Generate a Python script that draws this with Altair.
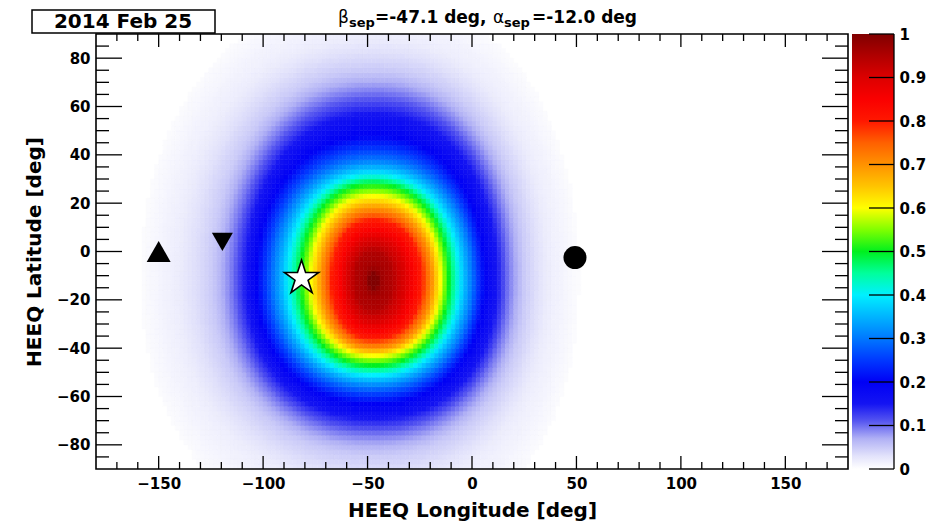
import altair as alt
import numpy as np
import pandas as pd

# ---------------- values ----------------
peak_lon = -47.1     # beta_sep
peak_lat = -12.0     # alpha_sep

# contour levels of the map and where each level crosses the lines through the peak (deg)
levels    = [0.0, 0.02, 0.05, 0.10, 0.15, 0.20, 0.30, 0.40, 0.50, 0.60, 0.70, 0.80, 0.85, 0.90, 0.95, 1.00]
lon_west  = [-163, -140, -124, -114, -108, -103, -95, -88, -82, -77, -72, -67, -63, -60, -56, -49]
lon_east  = [55, 36, 25, 17, 12, 6, 0, -6, -11, -15, -19, -24, -28, -32, -38, -45]
lat_south = [-125, -98, -84, -75, -69, -63, -56, -51, -47, -43, -40, -36, -33, -29, -24, -15]
lat_north = [110, 88, 75, 65, 57, 48, 38, 32, 28, 23, 18, 13, 9, 5, 0, -9]

marker_kind = ["triangle-up", "triangle-down", "star", "circle"]
marker_lon = [-150.0, -119.5, -81.6, 49.3]
marker_lat = [0.0, 4.0, -11.0, -2.5]

x_major = [-150, -100, -50, 0, 50, 100, 150]
x_minor = [-170, -160, -140, -130, -120, -110, -90, -80, -70, -60, -40, -30, -20, -10,
           10, 20, 30, 40, 60, 70, 80, 90, 110, 120, 130, 140, 160, 170]
y_major = [-80, -60, -40, -20, 0, 20, 40, 60, 80]
y_minor = [-85, -75, -70, -65, -55, -50, -45, -35, -30, -25, -15, -10, -5,
           5, 10, 15, 25, 30, 35, 45, 50, 55, 65, 70, 75, 85]
cb_ticks = [0, 0.1, 0.2, 0.3, 0.4, 0.5, 0.6, 0.7, 0.8, 0.9, 1.0]

date_label = "2014 Feb 25"

# palette (ROOT rainbow with white at zero)
pal_dom = [0.0, 0.03, 0.07, 0.11, 0.15, 0.20, 0.25, 0.30, 0.35, 0.40, 0.45, 0.50,
           0.55, 0.60, 0.65, 0.70, 0.75, 0.80, 0.85, 0.90, 0.95, 1.0]
pal_rng = ["#ffffff", "#e2e2fb", "#b0b0f5", "#5656f0", "#1414f2", "#0000f5", "#0038ff",
           "#0078ff", "#00b4ff", "#00f0ff", "#00ff9c", "#00f01e", "#80ff00", "#ffff00",
           "#ffc400", "#ff9200", "#ff6000", "#ff1800", "#fa0000", "#dc0000", "#b00000",
           "#800000"]

# ---------------- build the cell table from the contour crossings ----------------
STEP = 2.0
cell_lon = np.arange(-180 + STEP / 2, 180, STEP)
cell_lat = np.arange(-90 + STEP / 2, 90, STEP)
LON, LAT = np.meshgrid(cell_lon, cell_lat)
LON = LON.ravel()
LAT = LAT.ravel()
dx = LON - peak_lon
dy = LAT - peak_lat
P = 2.2
rho = np.empty((len(levels), LON.size))
for k in range(len(levels)):
    a = np.where(dx >= 0, lon_east[k] - peak_lon, peak_lon - lon_west[k])
    b = np.where(dy >= 0, lat_north[k] - peak_lat, peak_lat - lat_south[k])
    rho[k] = (np.abs(dx / a) ** P + np.abs(dy / b) ** P) ** (1.0 / P)
val = np.array([np.interp(1.0, rho[:, i], levels) for i in range(LON.size)])

heat_df = pd.DataFrame({
    "x0": LON - STEP / 2, "x1": LON + STEP / 2,
    "y0": LAT - STEP / 2, "y1": LAT + STEP / 2,
    "v": np.round(val, 3),
})
heat_df = heat_df[heat_df["v"] >= 0.004].reset_index(drop=True)

# ---------------- chart ----------------
W, H = 752, 435
CB_W = 42
FONT = "DejaVu Sans"

xs = alt.Scale(domain=[-180, 180], nice=False, zero=False)
ys = alt.Scale(domain=[-90, 90], nice=False, zero=False)
cscale = alt.Scale(domain=pal_dom, range=pal_rng, interpolate="rgb", clamp=True)
one = alt.Data(values=[{"a": 1}])

x_axis = alt.Axis(values=x_major, ticks=False, tickSize=0, domain=False, grid=False,
                  labelPadding=7, labelFlush=False, format="d",
                  title="HEEQ Longitude [deg]", titlePadding=9)
y_axis = alt.Axis(values=y_major, ticks=False, tickSize=0, domain=False, grid=False,
                  labelPadding=6, labelFlush=False, format="d",
                  title="HEEQ Latitude [deg]", titlePadding=12)

heat = alt.Chart(heat_df).mark_rect(strokeWidth=0.6).encode(
    x=alt.X("x0:Q", scale=xs, axis=x_axis),
    x2="x1:Q",
    y=alt.Y("y0:Q", scale=ys, axis=y_axis),
    y2="y1:Q",
    color=alt.Color("v:Q", scale=cscale, legend=None),
    stroke=alt.Stroke("v:Q", scale=cscale, legend=None),
)

frame = alt.Chart(one).mark_rect(fillOpacity=0, stroke="black", strokeWidth=1.6).encode(
    x=alt.value(0), x2=alt.value(W), y=alt.value(0), y2=alt.value(H))


def xticks(vals, length, top):
    d = pd.DataFrame({"t": vals})
    if top:
        y, y2 = alt.value(0), alt.value(length)
    else:
        y, y2 = alt.value(H), alt.value(H - length)
    return alt.Chart(d).mark_rule(color="black", strokeWidth=1.3).encode(
        x=alt.X("t:Q", scale=xs, axis=x_axis), y=y, y2=y2)


def yticks(vals, length, right):
    d = pd.DataFrame({"t": vals})
    if right:
        x, x2 = alt.value(W), alt.value(W - length)
    else:
        x, x2 = alt.value(0), alt.value(length)
    return alt.Chart(d).mark_rule(color="black", strokeWidth=1.3).encode(
        y=alt.Y("t:Q", scale=ys, axis=y_axis), x=x, x2=x2)


tick_layers = [
    xticks(x_major, 13, False), xticks(x_minor, 7, False),
    xticks(x_major, 13, True), xticks(x_minor, 7, True),
    yticks(y_major, 26, False), yticks(y_minor, 13, False),
    yticks(y_major, 26, True), yticks(y_minor, 13, True),
]

mk = pd.DataFrame({"kind": marker_kind, "lon": marker_lon, "lat": marker_lat})
STAR = ("M0,-1L0.2245,-0.309L0.951,-0.309L0.363,0.118L0.588,0.809L0,0.382"
        "L-0.588,0.809L-0.363,0.118L-0.951,-0.309L-0.2245,-0.309Z")


def marker(kind, **kw):
    return alt.Chart(mk).transform_filter(alt.datum.kind == kind).mark_point(
        opacity=1, **kw).encode(
        x=alt.X("lon:Q", scale=xs, axis=x_axis),
        y=alt.Y("lat:Q", scale=ys, axis=y_axis))


markers = [
    marker("triangle-up", shape="triangle-up", size=576, filled=True, color="black"),
    marker("triangle-down", shape="triangle-down", size=441, filled=True, color="black"),
    marker("circle", shape="circle", size=529, filled=True, color="black"),
    marker("star", shape=STAR, size=1296, filled=True, fill="white", stroke="black",
           strokeWidth=1.6),
]

box = alt.Chart(one).mark_rect(fill="white", stroke="black", strokeWidth=1.5).encode(
    x=alt.value(-64), x2=alt.value(119), y=alt.value(-24), y2=alt.value(-1))
date_text = alt.Chart(one).mark_text(
    text=date_label, font=FONT, fontSize=20, fontWeight="bold", color="black",
    align="center", baseline="middle").encode(x=alt.value(27), y=alt.value(-12))

title_pieces = [
    ("\u03b2", 242, -11, 17, "normal"),
    ("sep", 253, -7, 13, "bold"),
    ("=-47.1 deg,", 279, -11, 17, "bold"),
    ("\u03b1", 397, -11, 17, "normal"),
    ("sep", 408, -7, 13, "bold"),
    ("=-12.0 deg", 436, -11, 17, "bold"),
]
title_layers = [
    alt.Chart(one).mark_text(text=t, font=FONT, fontSize=fs, fontWeight=fw, color="black",
                             align="left", baseline="alphabetic").encode(
        x=alt.value(px), y=alt.value(py))
    for t, px, py, fs, fw in title_pieces
]

main = alt.layer(heat, frame, *tick_layers, *markers, box, date_text, *title_layers).properties(
    width=W, height=H)

# colour bar
cb_df = pd.DataFrame({"lo": [cb_ticks[0]], "hi": [cb_ticks[-1]]})
cys = alt.Scale(domain=[0, 1], nice=False, zero=False)
cb_axis = alt.Axis(orient="right", values=cb_ticks, format=".1~f", ticks=False, tickSize=0,
                   domain=False, grid=False, labelPadding=5, labelFlush=False, title=None)
grad = alt.LinearGradient(
    gradient="linear",
    stops=[alt.GradientStop(color=c, offset=o) for o, c in zip(pal_dom, pal_rng)],
    x1=0, x2=0, y1=1, y2=0)
cb_rect = alt.Chart(cb_df).mark_rect(fill=grad).encode(
    x=alt.value(0), x2=alt.value(CB_W),
    y=alt.Y("lo:Q", scale=cys, axis=cb_axis),
    y2="hi:Q")
cb_tick = alt.Chart(pd.DataFrame({"t": cb_ticks})).mark_rule(color="black", strokeWidth=1.3).encode(
    y=alt.Y("t:Q", scale=cys, axis=cb_axis), x=alt.value(CB_W - 25), x2=alt.value(CB_W))
cb_edge = alt.Chart(one).mark_rule(color="black", strokeWidth=1.3).encode(
    x=alt.value(CB_W), y=alt.value(0), y2=alt.value(H))
cbar = alt.layer(cb_rect, cb_tick, cb_edge).properties(width=CB_W, height=H)

chart = alt.hconcat(main, cbar, spacing=1).properties(
    padding={"left": 16, "top": 0, "right": 0, "bottom": 0},
    background="white",
).configure_view(stroke="transparent").configure_axis(
    labelFont=FONT, labelFontSize=15, labelFontWeight="bold", labelColor="black",
    titleFont=FONT, titleFontSize=20, titleFontWeight="bold", titleColor="black",
)

chart.save("out.html", embed_options={"renderer": "svg", "actions": False})
